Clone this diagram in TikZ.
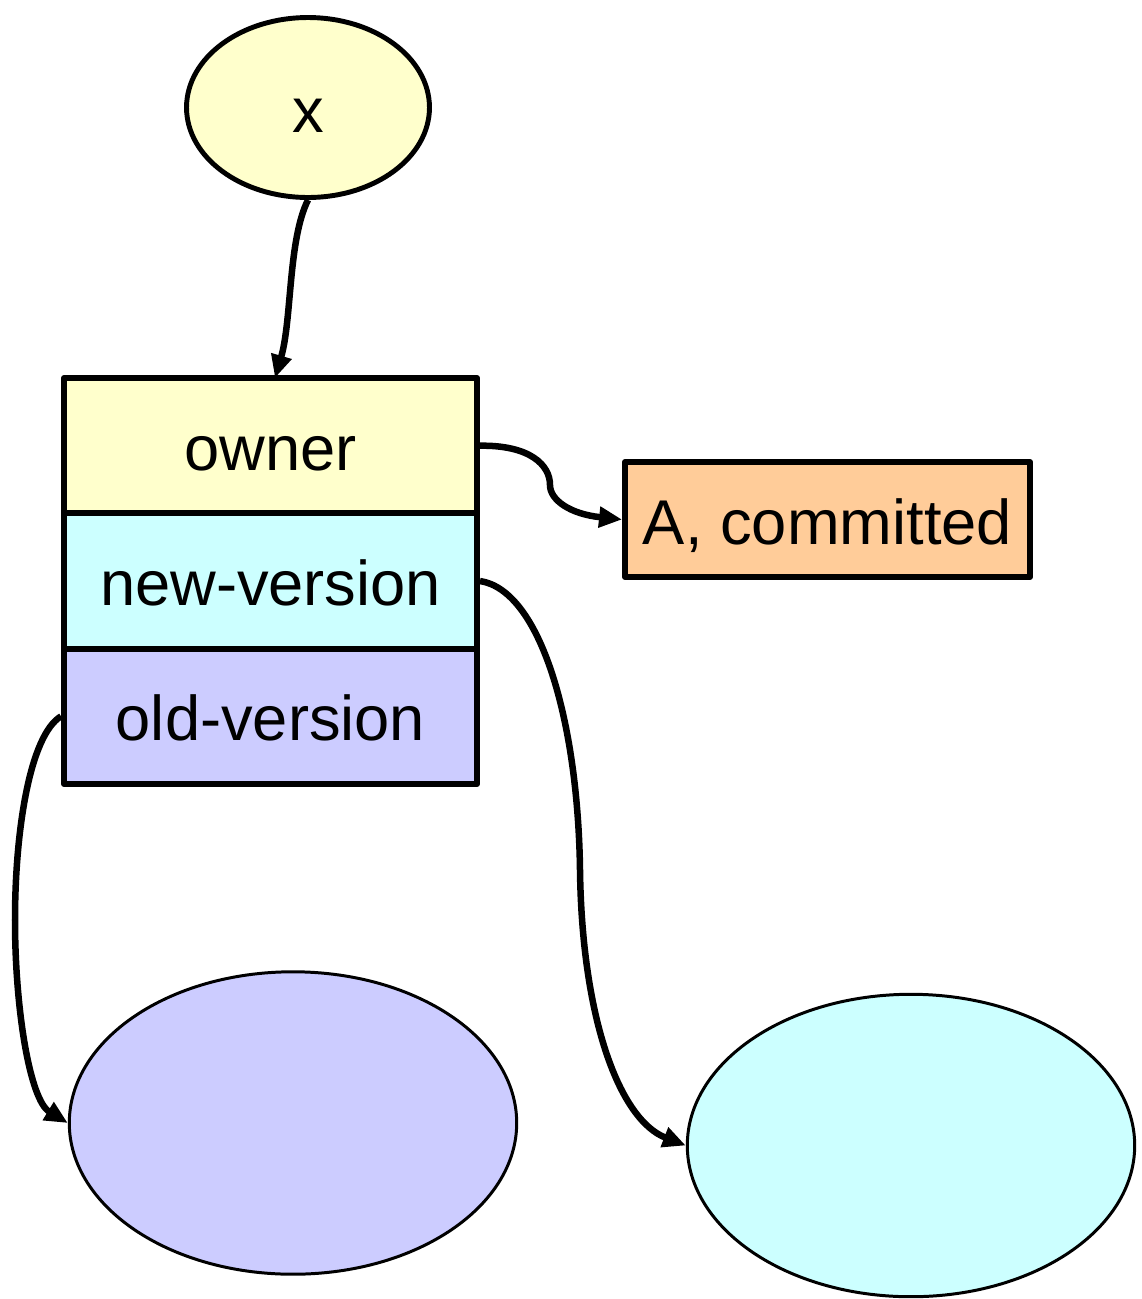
\documentclass[tikz,border=0pt]{standalone}
\usepackage{fontspec}
\setmainfont{Liberation Sans}
\usepackage{xcolor}
\usepackage{tikz}
\usetikzlibrary{arrows.meta}
\usetikzlibrary{shapes.geometric}
\definecolor{ownercol}{HTML}{FFFFCC}
\definecolor{newcol}{HTML}{CCFFFF}
\definecolor{oldcol}{HTML}{CCCCFF}
\definecolor{statecol}{HTML}{FFCC99}
\tikzset{
    tnode/.style = {align=center, inner sep=0pt, text centered, text height=0.98cm, text depth=0pt, font=\fontsize{36}{43}\selectfont},
    var_node/.style = {tnode, ellipse, draw=black, fill=ownercol, line width=2.8pt, minimum width=4.86cm, minimum height=3.6cm},
    field/.style = {tnode, rectangle, draw=black, line width=3.4pt, line join=round, minimum width=8.26cm, minimum height=2.71cm},
    state_node/.style = {tnode, rectangle, draw=black, fill=statecol, line width=3.4pt, line join=round, minimum width=8.1cm, minimum height=2.3cm},
    obj_node/.style = {tnode, ellipse, draw=black, line width=1.7pt, minimum width=8.95cm, minimum height=6.05cm},
    ptr/.style = {line width=3.7pt, -{Triangle[length=0.46cm,width=0.4cm]}}
}
\begin{document}
\begin{tikzpicture}[x=0.02cm,y=-0.02cm]
    \useasboundingbox (0,0) rectangle (1142,1299);
    \node [var_node] (x) at (308,107.5) {x};
    % record with three fields
    \node [field, fill=ownercol] (owner) at (270.5,445.7) {owner};
    \node [field, fill=newcol] (newver) at (270.5,581) {new-version};
    \node [field, fill=oldcol] (oldver) at (270.5,716.3) {old-version};
    \node [state_node] (state) at (827.5,519.5) {A, committed};
    \node [obj_node, fill=oldcol] (oldobj) at (293,1123) {};
    \node [obj_node, fill=newcol] (newobj) at (911,1145.5) {};
    % pointers
    \draw [ptr] (x.south) .. controls (288,240) and (292,320) .. (275,378);
    \draw [ptr] (owner.east) .. controls (530,445) and (550,465) .. (550,485)
        .. controls (550,500) and (570,514) .. (state.west);
    \draw [ptr] (newver.east) .. controls (540,590) and (578,720) .. (580,870)
        .. controls (582,1020) and (620,1120) .. (newobj.west);
    \draw [ptr] (oldver.west) .. controls (30,735) and (15,830) .. (15,920)
        .. controls (15,1010) and (30,1100) .. (oldobj.west);
\end{tikzpicture}
\end{document}
